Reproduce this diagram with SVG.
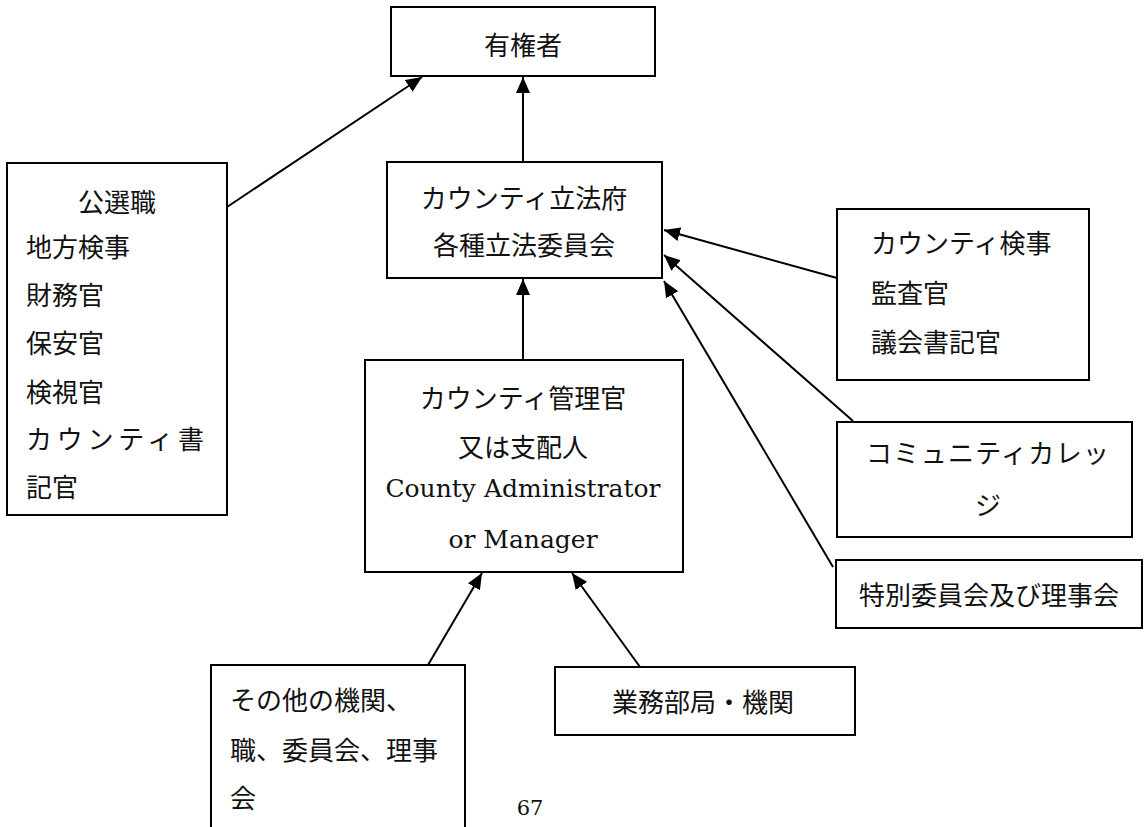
<svg xmlns="http://www.w3.org/2000/svg" width="1146" height="827" viewBox="0 0 1146 827">
<defs>
<marker id="arr" markerUnits="userSpaceOnUse" markerWidth="16" markerHeight="14" refX="16" refY="7" orient="auto">
<path d="M0,0 L16,7 L0,14 z" fill="#000"/>
</marker>
<style>
.box{fill:#fff;stroke:#000;stroke-width:2}
.jp{font-family:"Noto Sans CJK JP","Noto Sans",sans-serif;font-size:26px;fill:#111}
.en{font-family:"DejaVu Serif","Liberation Serif",serif;font-size:25px;fill:#111}
.c{text-anchor:middle}
.ln{stroke:#000;stroke-width:2;fill:none;marker-end:url(#arr)}
</style>
</defs>
<rect width="1146" height="827" fill="#fff"/>
<g id="connectors">
<line class="ln" x1="227" y1="207" x2="422" y2="77"/>
<line class="ln" x1="523" y1="162" x2="523" y2="77"/>
<line class="ln" x1="523" y1="360" x2="523" y2="279"/>
<line class="ln" x1="837" y1="278" x2="664" y2="230"/>
<line class="ln" x1="853" y1="421" x2="664" y2="255"/>
<line class="ln" x1="833" y1="567" x2="664" y2="281"/>
<line class="ln" x1="428" y1="665" x2="482" y2="573"/>
<line class="ln" x1="640" y1="667" x2="572" y2="573"/>
</g>
<g id="voters">
<rect class="box" x="391" y="7" width="264" height="69"/>
<text class="jp c" x="523" y="55">有権者</text>
</g>
<g id="legislature">
<rect class="box" x="387" y="162" width="275" height="116"/>
<text class="jp c" x="524" y="208">カウンティ立法府</text>
<text class="jp c" x="524" y="255">各種立法委員会</text>
</g>
<g id="elected">
<rect class="box" x="7" y="163" width="220" height="352"/>
<text class="jp c" x="117" y="212">公選職</text>
<text class="jp" x="26" y="257">地方検事</text>
<text class="jp" x="26" y="305">財務官</text>
<text class="jp" x="26" y="353">保安官</text>
<text class="jp" x="26" y="402">検視官</text>
<text class="jp" x="26" y="449" textLength="178" lengthAdjust="spacing">カウンティ書</text>
<text class="jp" x="26" y="497">記官</text>
</g>
<g id="administrator">
<rect class="box" x="365" y="360" width="318" height="212"/>
<text class="jp c" x="523" y="408">カウンティ管理官</text>
<text class="jp c" x="523" y="457">又は支配人</text>
<text class="en c" x="523" y="497">County Administrator</text>
<text class="en c" x="523" y="548">or Manager</text>
</g>
<g id="county-attorney">
<rect class="box" x="837" y="209" width="252" height="171"/>
<text class="jp" x="871" y="253">カウンティ検事</text>
<text class="jp" x="871" y="303">監査官</text>
<text class="jp" x="871" y="352">議会書記官</text>
</g>
<g id="community-college">
<rect class="box" x="837" y="422" width="295" height="115"/>
<text class="jp" x="866" y="463" textLength="243" lengthAdjust="spacing">コミュニティカレッ</text>
<text class="jp c" x="988" y="515">ジ</text>
</g>
<g id="special-boards">
<rect class="box" x="836" y="560" width="306" height="68"/>
<text class="jp c" x="989" y="605">特別委員会及び理事会</text>
</g>
<g id="other-agencies">
<rect class="box" x="211" y="665" width="254" height="180"/>
<text class="jp" x="230" y="710">その他の機関、</text>
<text class="jp" x="230" y="760">職、委員会、理事</text>
<text class="jp" x="230" y="808">会</text>
</g>
<g id="departments">
<rect class="box" x="555" y="667" width="300" height="68"/>
<text class="jp c" x="703" y="712">業務部局・機関</text>
</g>
<text class="en c" x="530" y="815" style="font-size:21px">67</text>
</svg>
